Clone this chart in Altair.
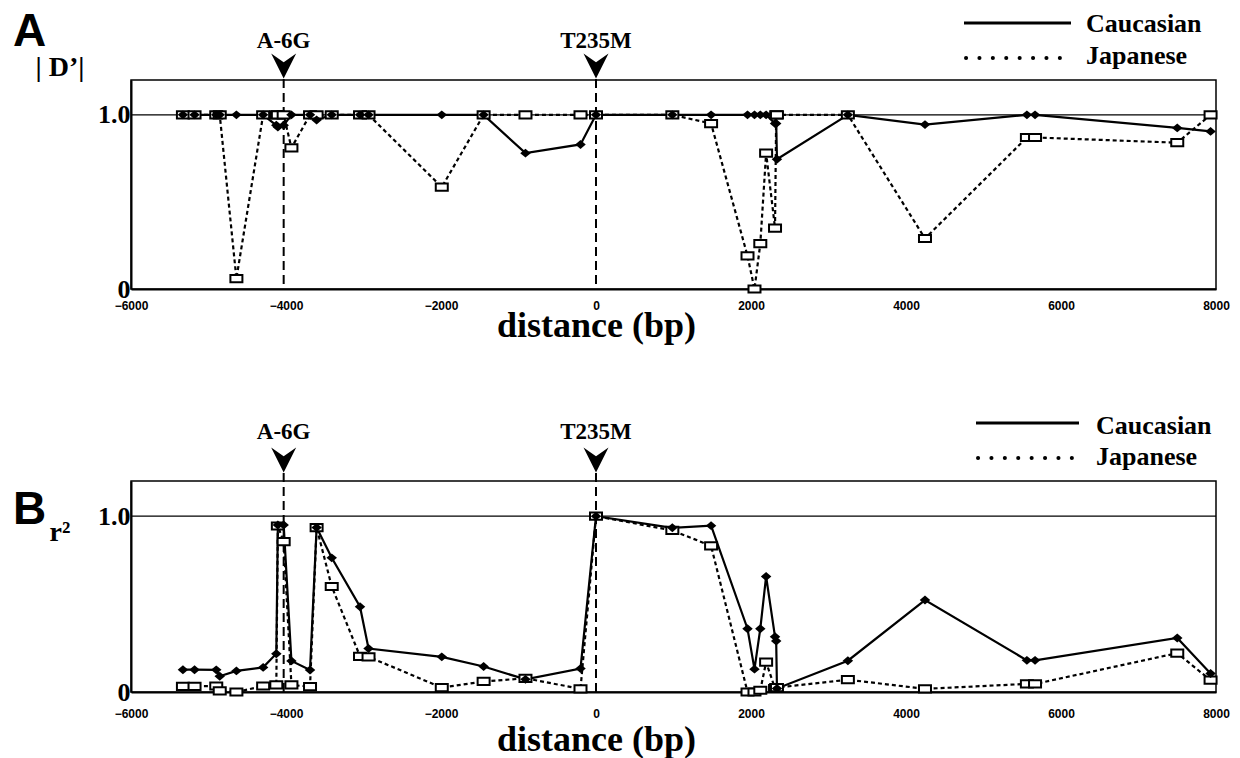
import altair as alt
import pandas as pd

# ---------------- data ----------------
positions = [-5330, -5180, -4900, -4855, -4640, -4295, -4125, -4105, -4030, -3930,
             -3690, -3605, -3410, -3045, -2935, -1990, -1450, -910, -200, 0,
             985, 1485, 1955, 2045, 2120, 2195, 2310, 2325, 2335, 3250,
             4245, 5560, 5665, 7500, 7930]
dprime_caucasian = [1.0, 1.0, 1.0, 1.0, 1.0, 1.0, 0.94, 0.93, 0.94, 1.0,
                    1.0, 0.97, 1.0, 1.0, 1.0, 1.0, 1.0, 0.78, 0.83, 1.0,
                    1.0, 1.0, 1.0, 1.0, 1.0, 1.0, 0.95, 0.95, 0.745, 1.0,
                    0.944, 1.0, 1.0, 0.925, 0.905]
dprime_japanese = [1.0, 1.0, 1.0, 1.0, 0.06, 1.0, 1.0, 1.0, 1.0, 0.81,
                   1.0, 1.0, 1.0, 1.0, 1.0, 0.585, 1.0, 1.0, 1.0, 1.0,
                   1.0, 0.95, 0.19, 0.0, 0.26, 0.78, 0.35, 1.0, 1.0, 1.0,
                   0.29, 0.87, 0.87, 0.84, 1.0]
r2_caucasian = [0.127, 0.127, 0.126, 0.09, 0.12, 0.14, 0.218, 0.95, 0.95, 0.177,
                0.125, 0.935, 0.763, 0.485, 0.247, 0.2, 0.145, 0.072, 0.133, 1.0,
                0.934, 0.946, 0.36, 0.13, 0.36, 0.657, 0.314, 0.29, 0.02, 0.178,
                0.523, 0.18, 0.18, 0.307, 0.105]
r2_japanese = [0.032, 0.032, 0.034, 0.006, 0.0, 0.034, 0.04, 0.944, 0.855, 0.04,
               0.03, 0.935, 0.60, 0.203, 0.2, 0.025, 0.06, 0.078, 0.018, 1.0,
               0.919, 0.831, 0.0, 0.0, 0.01, 0.17, 0.02, 0.025, 0.025, 0.07,
               0.018, 0.046, 0.046, 0.221, 0.067]
markers = ["A-6G", "T235M"]
marker_pos = [-4030, 0]
populations = ["Caucasian", "Japanese"]
x_ticks = [-6000, -4000, -2000, 0, 2000, 4000, 6000, 8000]
y_ticks = [0, 1]

# ---------------- styling ----------------
SERIF = "Liberation Serif"
SANS = "Liberation Sans"
W = 1085
ARROW = "M-1,-1L0,-0.3L1,-1L0,1Z"
DIAMOND = "M0,-0.85L1,0L0,0.85L-1,0Z"
RECT = "M-1,-0.6L1,-0.6L1,0.6L-1,0.6Z"


def panel(cauc, jpn, letter, ylabel, h, p):
    xscale = alt.Scale(domain=[-6000, 8000], nice=False, zero=False)
    yscale = alt.Scale(domain=[0, 1.2], nice=False, zero=True)
    xaxis = alt.Axis(values=x_ticks, format="d", title="distance (bp)", labelFlush=False,
                     labelFont=SANS, labelFontSize=12, labelFontWeight="bold",
                     labelPadding=p["lp"], ticks=False, labelColor="black",
                     titleFont=SERIF, titleFontSize=36, titleFontWeight="bold",
                     titleColor="black", titleX=465, titleY=p["ty"],
                     titleAlign="center", titleBaseline="middle",
                     domainWidth=2, domainColor="black", grid=False)
    yaxis = alt.Axis(values=y_ticks, labelExpr="datum.value == 0 ? '0' : '1.0'",
                     title=None, labelFont=SERIF, labelFontSize=26,
                     labelFontWeight="bold", labelPadding=1, ticks=False,
                     labelColor="black", domainWidth=2, domainColor="black",
                     grid=False)

    def X(f):
        return alt.X(f, type="quantitative", scale=xscale, axis=xaxis)

    def Y(f):
        return alt.Y(f, type="quantitative", scale=yscale, axis=yaxis)

    n = len(positions)
    df = pd.DataFrame({"pos": positions * 2, "val": cauc + jpn,
                       "pop": [populations[0]] * n + [populations[1]] * n})
    base = alt.Chart(df)
    mdf = pd.DataFrame({"pos": marker_pos, "name": markers})
    mk = alt.Chart(mdf)

    one = alt.Chart(pd.DataFrame({"v": [1.0]})).mark_rule(
        color="black", strokeWidth=1.3).encode(y=Y("v"))
    vlines = mk.mark_rule(color="black", strokeWidth=2, strokeDash=[9, 5]).encode(
        x=X("pos"), y=alt.value(p["tip"]), y2=alt.value(h))
    arrows = mk.mark_point(shape=ARROW, size=625, filled=True, color="black",
                           opacity=1).encode(x=X("pos"), y=alt.value(p["arrow"]))
    mlabels = mk.mark_text(font=SERIF, fontSize=23, fontWeight="bold",
                           baseline="alphabetic", color="black").encode(
        x=X("pos"), y=alt.value(p["lab"]), text="name:N")

    c_line = base.transform_filter(alt.datum.pop == "Caucasian").mark_line(
        color="black", strokeWidth=2.2).encode(x=X("pos"), y=Y("val"))
    j_line = base.transform_filter(alt.datum.pop == "Japanese").mark_line(
        color="black", strokeWidth=2.2, strokeDash=[4, 3]).encode(x=X("pos"), y=Y("val"))
    j_pts = base.transform_filter(alt.datum.pop == "Japanese").mark_point(
        shape=RECT, size=144, filled=True, fill="white", stroke="black",
        strokeWidth=2, opacity=1).encode(x=X("pos"), y=Y("val"))
    c_pts = base.transform_filter(alt.datum.pop == "Caucasian").mark_point(
        shape=DIAMOND, size=110, filled=True, color="black", opacity=1).encode(
        x=X("pos"), y=Y("val"))

    letter_t = alt.Chart(pd.DataFrame({"t": [letter]})).mark_text(
        font=SANS, fontSize=46, fontWeight="bold", align="left",
        baseline="alphabetic", color="black").encode(
        text="t:N", x=alt.value(-118), y=alt.value(p["letter_y"]))
    ylab_t = alt.Chart(pd.DataFrame({"t": [ylabel]})).mark_text(
        font=SERIF, fontSize=28, fontWeight="bold", align="center",
        baseline="alphabetic", color="black").encode(
        text="t:N", x=alt.value(-71), y=alt.value(p["yl_y"]))

    leg_c_line = alt.Chart(pd.DataFrame({"t": [populations[0]]})).mark_rule(
        color="black", strokeWidth=3).encode(
        x=alt.value(p["lx1"]), x2=alt.value(p["lx2"]), y=alt.value(p["ly_c"]))
    leg_j_line = alt.Chart(pd.DataFrame({"t": [populations[1]]})).mark_rule(
        color="black", strokeWidth=4, strokeDash=[0.1, 13.3], strokeCap="round").encode(
        x=alt.value(p["lx1"] + 2), x2=alt.value(p["lx2"]), y=alt.value(p["ly_j"]))
    leg_c_text = alt.Chart(pd.DataFrame({"t": [populations[0]]})).mark_text(
        font=SERIF, fontSize=26, fontWeight="bold", align="left",
        baseline="alphabetic", color="black").encode(
        text="t:N", x=alt.value(p["ltx"]), y=alt.value(p["lt_c"]))
    leg_j_text = alt.Chart(pd.DataFrame({"t": [populations[1]]})).mark_text(
        font=SERIF, fontSize=26, fontWeight="bold", align="left",
        baseline="alphabetic", color="black").encode(
        text="t:N", x=alt.value(p["ltx"]), y=alt.value(p["lt_j"]))

    return alt.layer(one, vlines, c_line, j_line, j_pts, c_pts, arrows, mlabels,
                     letter_t, ylab_t, leg_c_line, leg_j_line, leg_c_text,
                     leg_j_text).properties(width=W, height=h)


pA = dict(lp=11, ty=36, tip=-1, arrow=-14, lab=-32, letter_y=-34, yl_y=-4,
          lx1=833, lx2=940, ltx=955, ly_c=-57, lt_c=-48, ly_j=-22, lt_j=-16)
pB = dict(lp=16, ty=47, tip=-8, arrow=-21, lab=-42, letter_y=43, yl_y=60,
          lx1=845, lx2=948, ltx=965, ly_c=-58, lt_c=-47, ly_j=-23, lt_j=-16)

chartA = panel(dprime_caucasian, dprime_japanese, "A", "| D\u2019|", 209, pA)
chartB = panel(r2_caucasian, r2_japanese, "B", "r\u00b2", 211, pB)

chart = alt.vconcat(chartA, chartB, spacing=68).properties(
    padding={"left": 4, "top": 0, "right": 0, "bottom": 4},
    background="white",
).configure_view(stroke="black", strokeWidth=1.5)

chart.save("out.html", embed_options={"renderer": "svg", "actions": False})
